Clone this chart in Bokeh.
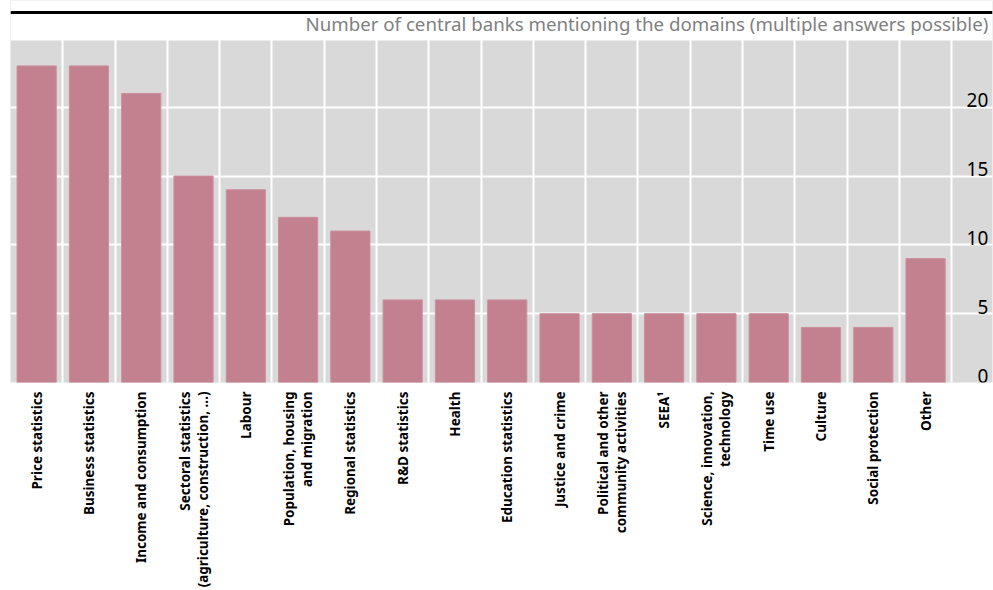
from math import pi
from bokeh.plotting import figure
from bokeh.models import Range1d, FixedTicker, LinearAxis, Grid, BoxAnnotation, Span, Label, ColumnDataSource
from bokeh.core.properties import value
from bokeh.embed import file_html
from bokeh.resources import INLINE

categories = [
    "Price statistics", "Business statistics", "Income and consumption",
    "Sectoral statistics\n(agriculture, construction, ...)", "Labour",
    "Population, housing\nand migration", "Regional statistics", "R&D statistics",
    "Health", "Education statistics", "Justice and crime",
    "Political and other\ncommunity activities", "SEEA\u00b9",
    "Science, innovation,\ntechnology", "Time use", "Culture",
    "Social protection", "Other",
]
counts = [23, 23, 21, 15, 14, 12, 11, 6, 6, 6, 5, 5, 5, 5, 5, 4, 4, 9]
y_ticks = [0, 5, 10, 15, 20]
title_text = "Number of central banks mentioning the domains (multiple answers possible)"

FONT = "Noto Sans"
n = len(categories)
x_idx = list(range(n))
plot_top = 24.85

p = figure(width=993, height=590, output_backend="svg", toolbar_location=None,
           x_range=Range1d(-0.5, n + 0.28), y_range=Range1d(0, 27.75),
           x_axis_location=None, y_axis_location=None,
           min_border_left=10, min_border_right=1, min_border_top=0, min_border_bottom=207)
p.background_fill_color = "#d9d9d9"
p.border_fill_color = "white"
p.outline_line_color = None
p.grid.visible = False

# grids
xg = Grid(dimension=0, ticker=FixedTicker(ticks=[i + 0.5 for i in x_idx]),
          grid_line_color="white", grid_line_width=2)
yg = Grid(dimension=1, ticker=FixedTicker(ticks=y_ticks[1:]),
          grid_line_color="white", grid_line_width=2)
p.add_layout(xg)
p.add_layout(yg)

src = ColumnDataSource(dict(x=x_idx, top=counts))
p.vbar(x="x", top="top", width=0.75, bottom=0, source=src,
       fill_color="#c3808f", line_color="#cb909c", line_width=1)

# white area above the plot panel
p.add_layout(BoxAnnotation(bottom=plot_top, fill_color="white", fill_alpha=1,
                           line_color=None))
p.add_layout(Span(location=26.88, dimension="width", line_color="black", line_width=3))
p.add_layout(Label(x=n + 0.2, y=25.2, text=title_text, text_align="right",
                   text_baseline="bottom", text_font=FONT, text_font_size="18.7px",
                   text_color="#808080"))

# right-side tick labels inside the panel
tsrc = ColumnDataSource(dict(x=[n + 0.2] * len(y_ticks), y=y_ticks,
                             t=[str(v) for v in y_ticks]))
p.text(x="x", y="y", text="t", source=tsrc, text_align="right", text_baseline="bottom",
       text_font=value(FONT), text_font_size="19px", text_color="black")

# category axis
xa = LinearAxis(ticker=FixedTicker(ticks=x_idx),
                major_label_overrides={i: c for i, c in enumerate(categories)})
xa.major_label_orientation = pi / 2
xa.axis_line_color = None
xa.major_tick_line_color = None
xa.minor_tick_line_color = None
xa.major_tick_out = 0
xa.major_tick_in = 0
xa.major_label_standoff = 9
xa.major_label_text_font = FONT
xa.major_label_text_font_size = "13.5px"
xa.major_label_text_font_style = "bold"
xa.major_label_text_line_height = 1.0
xa.major_label_text_color = "black"
p.add_layout(xa, "below")

open("out.html", "w").write(file_html(p, INLINE))
